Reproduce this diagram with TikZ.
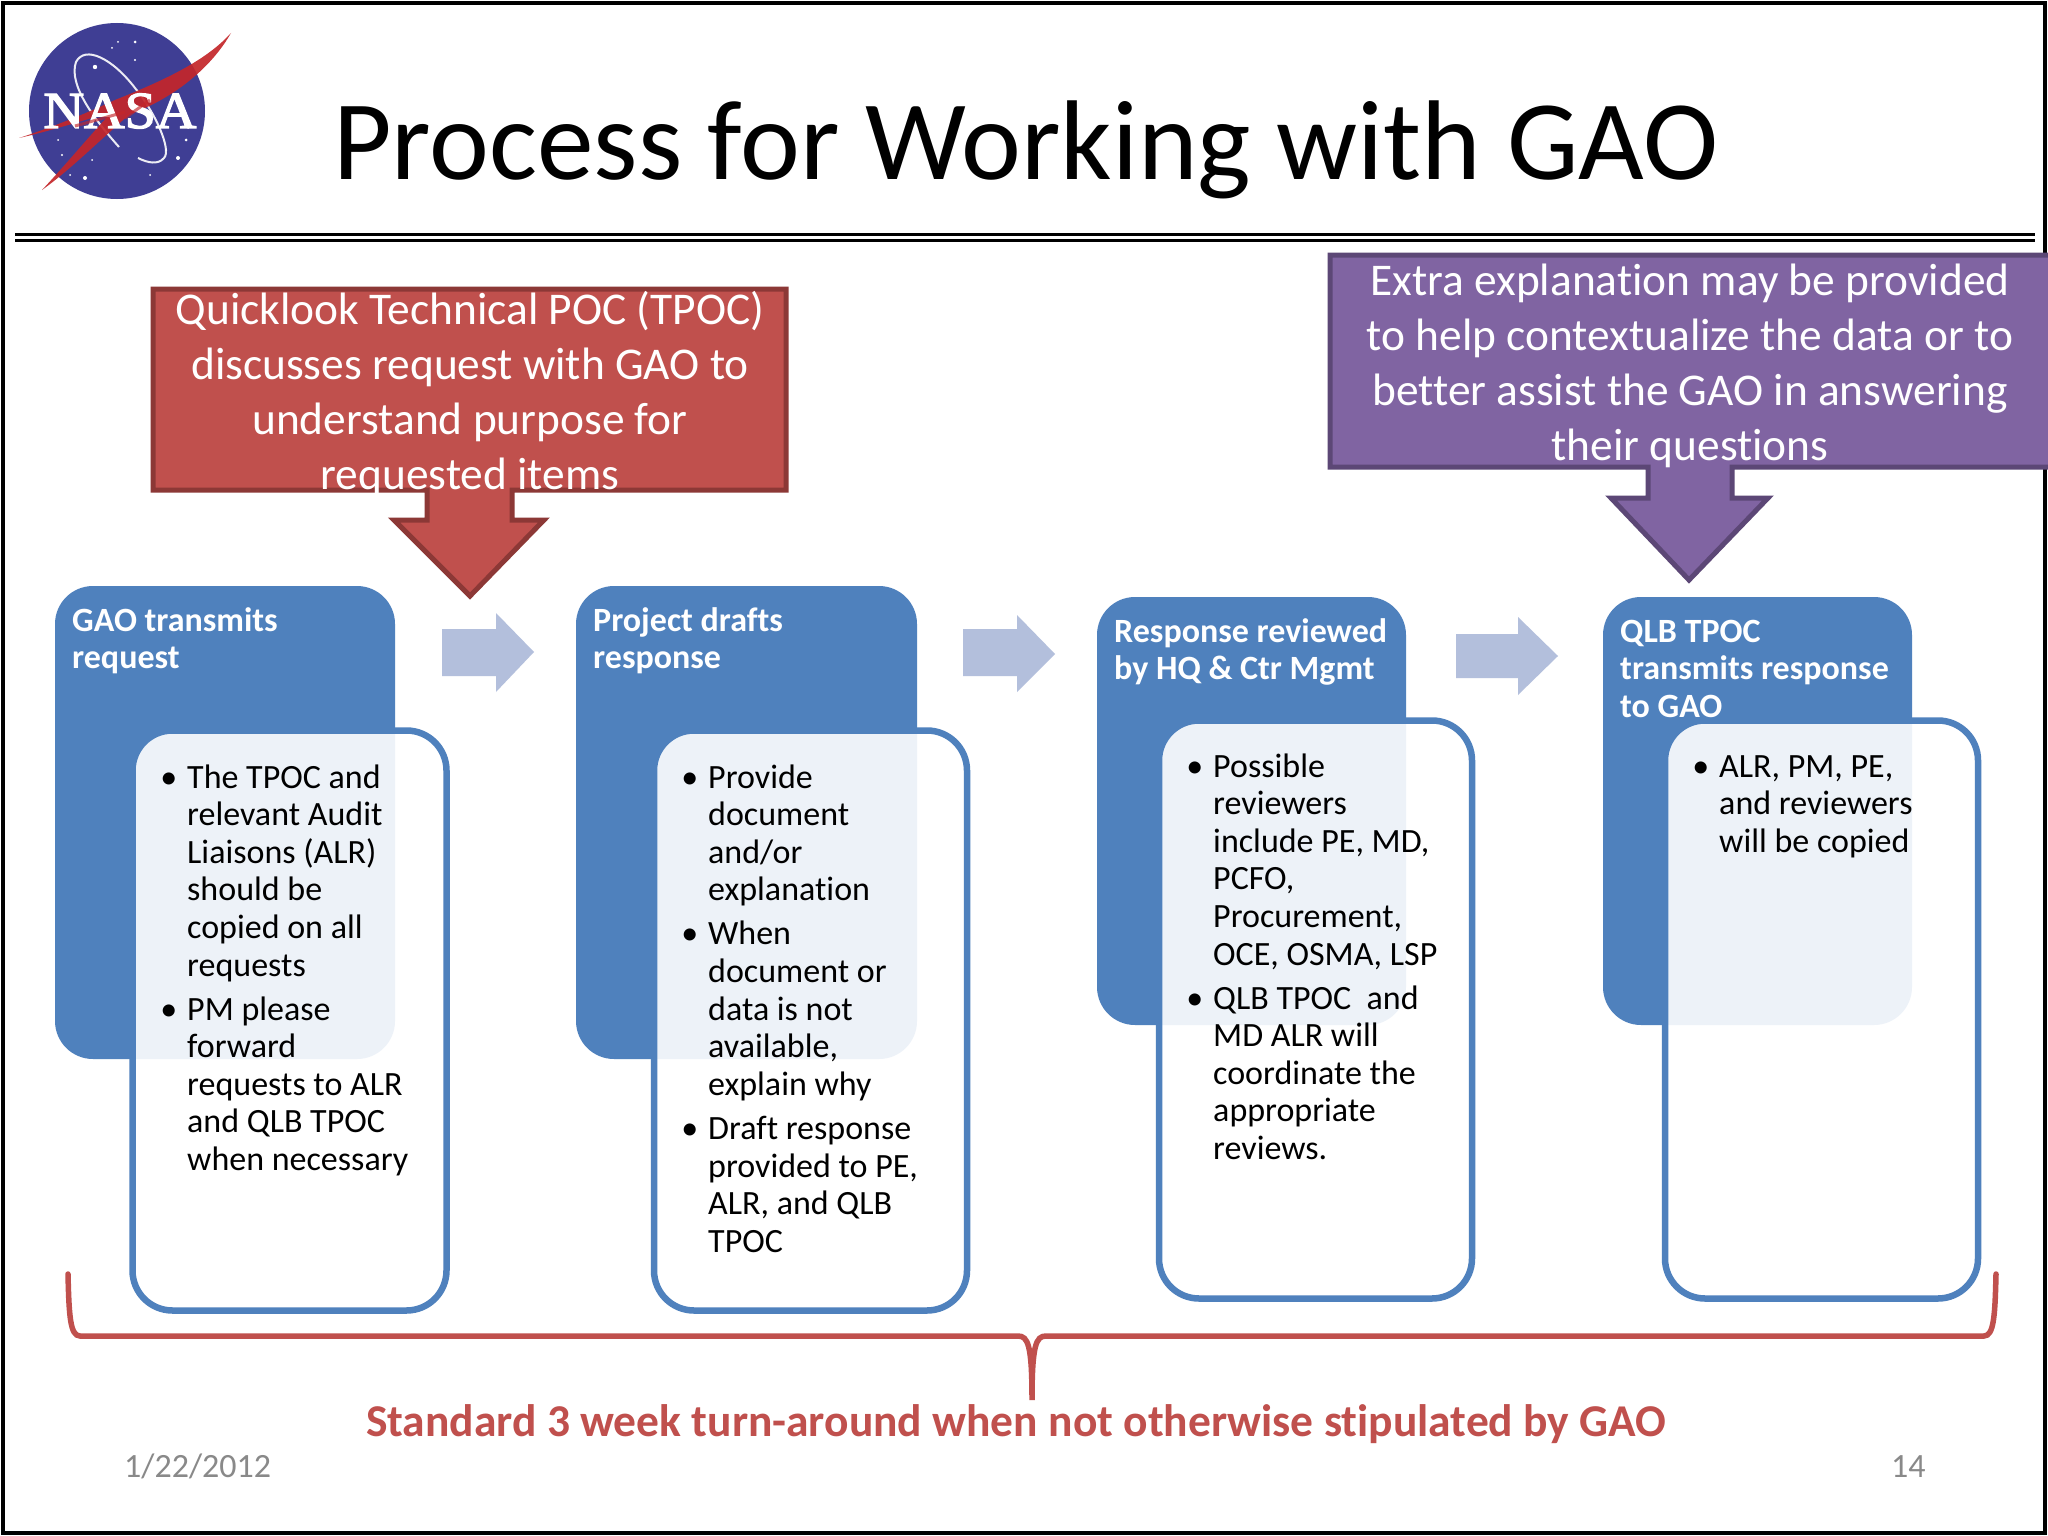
\documentclass[tikz,border=0pt]{standalone}
\usepackage{fontspec}
\setmainfont[Ligatures=NoCommon]{Carlito}
\newfontfamily\logofont[FakeBold=2.5]{Liberation Serif}
\definecolor{bluebox}{HTML}{4F81BD}
\definecolor{redfill}{HTML}{C0504D}
\definecolor{redline}{HTML}{8C3836}
\definecolor{purplefill}{HTML}{8064A2}
\definecolor{purpleline}{HTML}{5C4776}
\definecolor{arrowfill}{HTML}{B3BFDC}
\definecolor{nasablue}{HTML}{3F3E94}
\definecolor{nasared}{HTML}{C4262A}
\definecolor{dategray}{HTML}{898989}
\newcommand{\bitem}{\leavevmode\llap{\textbullet\hspace{10pt}}}
\tikzset{
  headbox/.style={fill=bluebox,rounded corners=38pt,anchor=north west,inner sep=0pt,outer sep=0pt},
  bodybox/.style={draw=bluebox,line width=6.5pt,fill=white,fill opacity=.9,draw opacity=1,rounded corners=40pt,anchor=north west,inner sep=0pt,outer sep=0pt},
  headtext/.style={text=white,font=\fontsize{34}{37.6}\selectfont\bfseries,anchor=base west,inner sep=0pt},
  bodytext/.style={text=black,font=\fontsize{34}{37.6}\selectfont,anchor=base west,inner sep=0pt},
  calltext/.style={text=white,font=\fontsize{45.4}{55}\selectfont,anchor=base,inner sep=0pt},
  flowarrow/.style={fill=arrowfill},
  callred/.style={fill=redfill,draw=redline,line width=5pt,line join=miter},
  callpurple/.style={fill=purplefill,draw=purpleline,line width=5pt,line join=miter}
}
\begin{document}
\begin{tikzpicture}[x=1pt,y=-1pt]
\clip (0,0) rectangle (2048,1536);
\fill[white] (0,0) rectangle (2048,1536);
\draw[black,line width=3.5pt] (3,3) rectangle (2045,1533);
% rule
\fill[black] (15,233) rectangle (2035,236);
\fill[black] (15,238.5) rectangle (2035,242);
% logo
\fill[nasablue] (117,111) circle (88);
\foreach \sx/\sy/\sr in {135/42/1.5,118/42/1,112/48/1,95/67/2.2,135/60/1.2,186/140/1.5,178/158/2,166/150/1,85/178/2,62/155/1.2,70/175/1,150/175/1,188/128/1,92/160/1,58/140/1}
  \fill[white] (\sx,\sy) circle (\sr);
\draw[white,line width=2pt,opacity=.9] (119,147) .. controls (95,120) and (68,85) .. (76,62) .. controls (85,45) and (112,58) .. (135,88) .. controls (155,112) and (172,150) .. (164,158) .. controls (158,165) and (148,163) .. (138,158);
\fill[nasared,opacity=.92] (231,33) .. controls (205,62) and (160,82) .. (115,100) .. controls (85,114) and (50,128) .. (19,138) .. controls (50,131) and (85,120) .. (112,112) .. controls (90,135) and (70,160) .. (42,190) .. controls (70,170) and (100,140) .. (130,114) .. controls (170,100) and (210,70) .. (231,33) -- cycle;
\node[text=white,font=\logofont\fontsize{52}{52}\selectfont,anchor=base,inner sep=0pt,xscale=1.08] (nasaword) at (120,128) {NASA};
\draw[nasared,line width=3pt,opacity=.65] (125,112) -- (75,126);
\draw[nasared,line width=3pt,opacity=.65] (150,100) -- (125,118);
\node[anchor=base west,inner sep=0pt,font=\fontsize{113.4}{114}\selectfont] (title) at (333,179) {Process for Working with GAO};
% head boxes
\node[headbox,minimum width=340pt,minimum height=473pt] (h1) at (55,586) {};
\node[headbox,minimum width=341pt,minimum height=473pt] (h2) at (576,586) {};
\node[headbox,minimum width=309pt,minimum height=428pt] (h3) at (1097,597) {};
\node[headbox,minimum width=309pt,minimum height=428pt] (h4) at (1603,597) {};
% flow arrows
\fill[flowarrow] (442,629) -- (496,629) -- (496,613) -- (534,652) -- (496,692) -- (496,676) -- (442,676) -- cycle;
\fill[flowarrow] (963,629) -- (1017,629) -- (1017,615) -- (1055,654) -- (1017,692) -- (1017,676) -- (963,676) -- cycle;
\fill[flowarrow] (1456,634) -- (1518,634) -- (1518,617) -- (1558,656) -- (1518,695) -- (1518,678) -- (1456,678) -- cycle;
% body boxes
\node[bodybox,minimum width=314pt,minimum height=580pt] (b1) at (132.5,730.5) {};
\node[bodybox,minimum width=313pt,minimum height=580pt] (b2) at (654,730.5) {};
\node[bodybox,minimum width=313pt,minimum height=578pt] (b3) at (1159,720.5) {};
\node[bodybox,minimum width=313pt,minimum height=578pt] (b4) at (1665,720.5) {};
% head text
\node[headtext] (ht1) at (72,631) {\parbox[t]{300pt}{\raggedright GAO transmits\\request}};
\node[headtext] (ht2) at (593,631) {\parbox[t]{300pt}{\raggedright Project drafts\\response}};
\node[headtext] (ht3) at (1114,642) {\parbox[t]{300pt}{\raggedright Response reviewed\\by HQ \& Ctr Mgmt}};
\node[headtext] (ht4) at (1620,642) {\parbox[t]{300pt}{\raggedright QLB TPOC\\transmits response\\to GAO}};
% body text
\node[bodytext] (bt1) at (187,788) {\parbox[t]{260pt}{\raggedright
\bitem The TPOC and\\relevant Audit\\Liaisons (ALR)\\should be\\copied on all\\requests\\[6.5pt]
\bitem PM please\\forward\\requests to ALR\\and QLB TPOC\\when necessary}};
\node[bodytext] (bt2) at (708,788) {\parbox[t]{260pt}{\raggedright
\bitem Provide\\document\\and/or\\explanation\\[6.5pt]
\bitem When\\document or\\data is not\\available,\\explain why\\[6.5pt]
\bitem Draft response\\provided to PE,\\ALR, and QLB\\TPOC}};
\node[bodytext] (bt3) at (1213,777) {\parbox[t]{260pt}{\raggedright
\bitem Possible\\reviewers\\include PE, MD,\\PCFO,\\Procurement,\\OCE, OSMA, LSP\\[6.5pt]
\bitem QLB TPOC\ \ and\\MD ALR will\\coordinate the\\appropriate\\reviews.}};
\node[bodytext] (bt4) at (1719,777) {\parbox[t]{260pt}{\raggedright
\bitem ALR, PM, PE,\\and reviewers\\will be copied}};
% callouts
\draw[callred] (153,289) -- (786,289) -- (786,490) -- (512,490) -- (512,520) -- (544,520) -- (470,596) -- (394,520) -- (427,520) -- (427,490) -- (153,490) -- cycle;
\node[calltext] (c1) at (470,324) {\parbox[t]{640pt}{\centering Quicklook Technical POC (TPOC)\\discusses request with GAO to\\understand purpose for\\requested items}};
\draw[callpurple] (1330,255) -- (2060,255) -- (2060,467) -- (1732,467) -- (1732,498) -- (1768,498) -- (1689,580) -- (1611,498) -- (1648,498) -- (1648,467) -- (1330,467) -- cycle;
\node[calltext] (c2) at (1690,295) {\parbox[t]{680pt}{\centering Extra explanation may be provided\\to help contextualize the data or to\\better assist the GAO in answering\\their questions}};
% brace
\draw[redfill,line width=5.5pt,line cap=round] (68,1274) .. controls (69,1315) and (70,1336) .. (80,1336) -- (1018,1336) .. controls (1028,1336) and (1032,1345) .. (1032,1400) .. controls (1032,1345) and (1036,1336) .. (1046,1336) -- (1984,1336) .. controls (1994,1336) and (1995,1315) .. (1996,1274);
\node[anchor=base,inner sep=0pt,text=redfill,font=\fontsize{45.5}{50}\selectfont\bfseries] (turn) at (1016,1436) {Standard 3 week turn-around when not otherwise stipulated by GAO};
\node[anchor=base west,inner sep=0pt,text=dategray,font=\fontsize{34}{40}\selectfont] (date) at (124,1477) {1/22/2012};
\node[anchor=base west,inner sep=0pt,text=dategray,font=\fontsize{34}{40}\selectfont] (pageno) at (1891,1477) {14};
\end{tikzpicture}
\end{document}
